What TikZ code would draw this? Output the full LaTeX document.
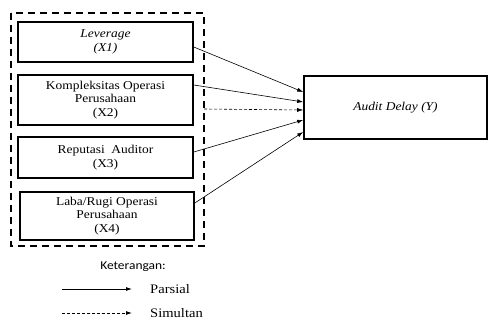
\documentclass[tikz,border=0pt]{standalone}
\usepackage{fontspec}
\setmainfont[FakeStretch=1.12]{Liberation Serif}
\newfontfamily\legendfont[FakeStretch=1.12]{Carlito}
\usepackage{tikz}
\usetikzlibrary{positioning,arrows.meta}

\tikzset{
  varbox/.style={draw, line width=1.6pt, align=center, inner sep=0pt,
    minimum width=175pt, font=\fontsize{12}{13.5}\selectfont},
  rel/.style={line width=0.6pt, -{Latex[length=6pt,width=4pt]}},
  simul/.style={rel, dash pattern=on 3pt off 2pt},
}

\begin{document}
\begin{tikzpicture}[x=1pt, y=-1pt]
    \useasboundingbox (0,0) rectangle (489,320);
    % 変数
    \node[varbox, minimum height=40pt] (x1) at (105.5,42) {\textit{Leverage}\\\textit{(X1)}};
    \node[varbox, minimum height=50pt] (x2) at (105.5,100) {Kompleksitas Operasi\\Perusahaan\\(X2)};
    \node[varbox, minimum height=41pt] (x3) at (105.5,157.5) {Reputasi\ \ Auditor\\(X3)};
    \node[varbox, minimum height=48pt, minimum width=174pt] (x4) at (107,216) {Laba/Rugi Operasi\\Perusahaan\\(X4)};
    \node[varbox, minimum height=63pt, minimum width=183pt] (y) at (395.5,107.5) {\textit{Audit Delay (Y)}};
    % 破線の枠
    \draw[line width=2pt, dash pattern=on 7pt off 5pt] (11,13) rectangle (204,246);
    \coordinate (grp) at (204,109);
    % 矢印
    \draw[rel] ([yshift=-5pt]x1.east) -- ([yshift=15.5pt]y.west);
    \draw[rel] ([yshift=15pt]x2.east) -- ([yshift=5.5pt]y.west);
    \draw[simul] (grp) -- ([yshift=-2.5pt]y.west);
    \draw[rel] ([yshift=5.5pt]x3.east) -- ([yshift=-12.5pt]y.west);
    \draw[rel] ([yshift=13pt]x4.east) -- ([yshift=-24.5pt]y.west);
    % 凡例
    \node (ket) at (133,267) {\legendfont\fontsize{12}{14}\selectfont Keterangan:};
    \coordinate (pa) at (62,289);
    \coordinate (pb) at (132,289);
    \coordinate (sa) at (62,313);
    \coordinate (sb) at (132,313);
    \draw[rel, line width=0.8pt] (pa) -- (pb);
    \draw[simul, line width=0.8pt] (sa) -- (sb);
    \node[anchor=west, inner sep=0pt, font=\fontsize{13}{15}\selectfont] (par) at (150,289) {Parsial};
    \node[anchor=west, inner sep=0pt, font=\fontsize{13}{15}\selectfont] (sim) at (150,313) {Simultan};
\end{tikzpicture}
\end{document}
